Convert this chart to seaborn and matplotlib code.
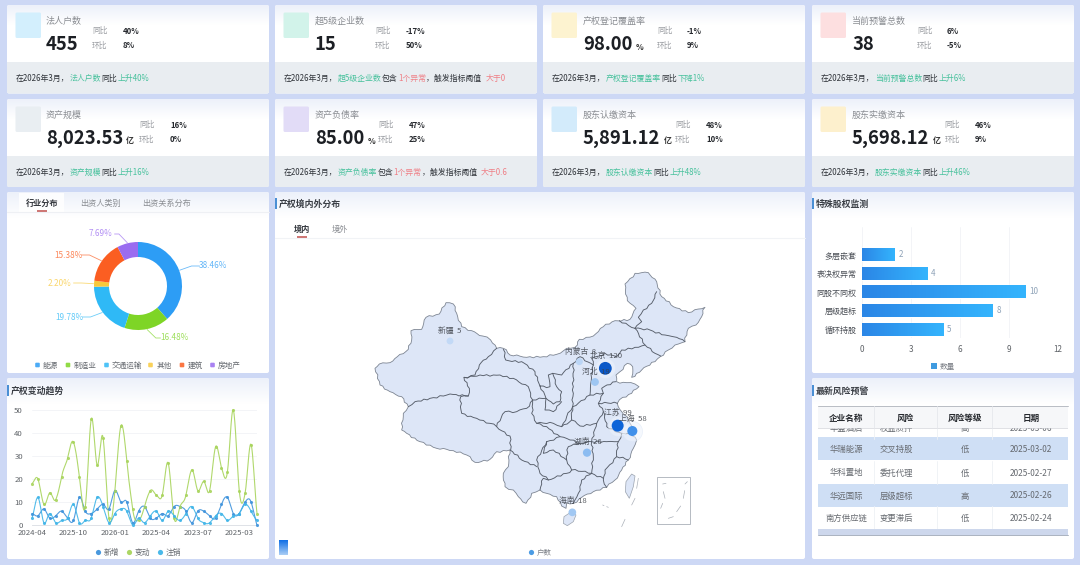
import numpy as np
import pandas as pd
import matplotlib
matplotlib.use("Agg")
import matplotlib.pyplot as plt
from matplotlib.colors import LinearSegmentedColormap, to_rgb
from matplotlib.patches import FancyBboxPatch, Polygon, Rectangle
import seaborn as sns

sns.set_theme(style="white")
FONT = ["Noto Sans CJK SC", "DejaVu Sans"]
plt.rcParams["font.family"] = FONT
plt.rcParams["axes.unicode_minus"] = False

# KPI cards
CARD_TITLES = ["法人户数", "超5级企业数", "产权登记覆盖率", "当前预警总数",
               "资产规模", "资产负债率", "股东认缴资本", "股东实缴资本"]
CARD_VALUES = ["455", "15", "98.00", "38", "8,023.53", "85.00", "5,891.12", "5,698.12"]
CARD_UNITS = ["", "", "%", "", "亿", "%", "亿", "亿"]
CARD_YOY = ["40%", "-17%", "-1%", "6%", "16%", "47%", "48%", "46%"]
CARD_QOQ = ["8%", "50%", "9%", "-5%", "0%", "25%", "10%", "9%"]
CARD_ICONS = ["#d3effd", "#d2f3ea", "#fdf3d0", "#fddfe0", "#e9eef2", "#e2dcf7", "#d3ebfb", "#fdf0cd"]
CARD_NOTES = [
    [("法人户数", "g"), ("同比", "k"), ("上升40%", "g")],
    [("超5级企业数", "g"), ("包含", "k"), ("1个异常", "r"), ("，触发指标阈值 ", "k"), ("大于0", "r")],
    [("产权登记覆盖率", "g"), ("同比", "k"), ("下降1%", "g")],
    [("当前预警总数", "g"), ("同比", "k"), ("上升6%", "g")],
    [("资产规模", "g"), ("同比", "k"), ("上升16%", "g")],
    [("资产负债率", "g"), ("包含", "k"), ("1个异常", "r"), ("，触发指标阈值 ", "k"), ("大于0.6", "r")],
    [("股东认缴资本", "g"), ("同比", "k"), ("上升48%", "g")],
    [("股东实缴资本", "g"), ("同比", "k"), ("上升46%", "g")],
]

# Industry donut
INDUSTRIES = ["能源", "制造业", "交通运输", "其他", "建筑", "房地产"]
INDUSTRY_SHARE = [38.46, 16.48, 19.78, 2.20, 15.38, 7.69]
INDUSTRY_COLORS = ["#2d9df5", "#7ed526", "#2fb9f6", "#f8c93c", "#fb5e22", "#9a6cf0"]
DONUT_TABS = ["行业分布", "出资人类别", "出资关系分布"]

# Equity change trend
TREND_TICKS = ["2024-04", "2025-10", "2026-01", "2025-04", "2023-07", "2025-03"]
TREND_ADDED = [5, 4, 7, 3, 4, 6, 3, 2, 12, 6, 5, 7, 9, 7, 15, 10, 10, 1, 6, 8,
               3, 3, 5, 4, 8, 8, 6, 1, 6, 6, 4, 3, 9, 12, 5, 5, 10, 10, 0]
TREND_CHANGED = [18, 20, 9, 14, 11, 21, 29, 36, 21, 8, 46, 26, 38, 3, 15, 43, 28, 7, 2, 8,
                 15, 13, 13, 27, 3, 8, 13, 24, 15, 19, 15, 34, 25, 23, 50, 15, 14, 35, 5]
TREND_CANCELLED = [3, 12, 1, 5, 1, 2, 3, 9, 1, 2, 3, 12, 8, 1, 5, 7, 6, 0, 3, 1,
                   4, 6, 2, 6, 4, 2, 5, 8, 3, 1, 1, 4, 5, 2, 4, 5, 9, 6, 2]

# Special equity monitoring
EQUITY_TYPES = ["多层嵌套", "表决权异常", "同股不同权", "层级超标", "循环持股"]
EQUITY_COUNTS = [2, 4, 10, 8, 5]

# Latest risk alerts
ALERT_HEADERS = ["企业名称", "风险", "风险等级", "日期"]
ALERT_FIRMS = ["华盛酒店", "华瑞能源", "华科置地", "华远国际", "南方供应链"]
ALERT_RISKS = ["权益质押", "交叉持股", "委托代理", "层级超标", "变更滞后"]
ALERT_LEVELS = ["高", "低", "低", "高", "低"]
ALERT_DATES = ["2025-03-06", "2025-03-02", "2025-02-27", "2025-02-26", "2025-02-24"]

# Holdings by region, placed on the map sheet
REGIONS = ["新疆", "内蒙古", "北京", "河北", "江苏", "上海", "湖南", "海南"]
REGION_COUNTS = [5, 8, 120, 19, 99, 58, 26, 18]
REGION_X = [330, 718, 796, 765, 833, 877, 741, 697]
REGION_Y = [243, 305, 325, 366, 497, 513, 578, 757]
REGION_LABEL_Y = [212, 277, 287, 335, 458, 478, 547, 724]
REGION_LABEL_X = [330, 722, 797, 768, 835, 880, 742, 698]

# Map sheet geometry (sheet units, y downward)
CHINA_OUTLINE = [
    (105, 325), (118, 312), (150, 308), (172, 290), (205, 268), (215, 240), (213, 212), (245, 208),
    (258, 172), (298, 162), (318, 128), (340, 132), (350, 160), (365, 200), (395, 212), (428, 228),
    (452, 240), (470, 265), (490, 265), (510, 285), (560, 292), (610, 290), (650, 283), (680, 265),
    (705, 262), (718, 238), (760, 228), (790, 200), (825, 182), (870, 178), (888, 145), (862, 122),
    (855, 72), (885, 40), (925, 38), (950, 65), (965, 110), (1000, 140), (1045, 158), (1095, 142),
    (1085, 170), (1068, 195), (1045, 205), (1035, 245), (1005, 255), (985, 270), (945, 305), (905, 330),
    (875, 352), (878, 320), (862, 310), (840, 335), (828, 345), (830, 365), (860, 368), (885, 372),
    (897, 380), (875, 400), (848, 412), (832, 430), (845, 455), (865, 480), (885, 508), (870, 520),
    (890, 540), (880, 565), (865, 600), (845, 630), (825, 660), (800, 682), (760, 695), (725, 712),
    (700, 730), (680, 728), (678, 745), (665, 738), (650, 710), (620, 700), (600, 690), (575, 700),
    (558, 730), (535, 710), (520, 690), (495, 680), (490, 640), (505, 620), (510, 570), (470, 575),
    (450, 598), (405, 607), (380, 585), (340, 572), (290, 565), (240, 545), (200, 520), (185, 510),
    (190, 460), (205, 440), (185, 410), (150, 395), (120, 375), (105, 325),
]
PROVINCE_BORDERS = [
    [(205, 440), (225, 425), (270, 415), (330, 402), (385, 408), (388, 385), (372, 352), (405, 345),
     (418, 315), (445, 290), (470, 265)],
    [(385, 408), (362, 410), (365, 460), (410, 475), (450, 490), (470, 500), (510, 528), (512, 570)],
    [(372, 352), (420, 345), (480, 345), (520, 355), (565, 380), (578, 420), (560, 445), (530, 455),
     (495, 455), (470, 500)],
    [(490, 268), (497, 300), (545, 305), (585, 335), (600, 378), (618, 415), (640, 432), (660, 425),
     (665, 395), (650, 380), (638, 340), (625, 345), (630, 380), (600, 378)],
    [(578, 420), (618, 415), (615, 450), (640, 455), (665, 425)],
    [(638, 340), (665, 345), (700, 310), (720, 290), (760, 315)],
    [(700, 310), (700, 380), (698, 440), (680, 470), (665, 500), (640, 490), (590, 490), (575, 460), (578, 420)],
    [(760, 315), (752, 372), (750, 405), (698, 440)],
    [(760, 315), (755, 295), (795, 280), (830, 290), (845, 270), (885, 262), (915, 255), (945, 280), (962, 288)],
    [(885, 205), (915, 255)],
    [(885, 205), (905, 185), (895, 172), (910, 150), (935, 130), (950, 95)],
    [(885, 205), (930, 210), (975, 225), (1010, 232), (1035, 245)],
    [(885, 205), (838, 182)],
    [(750, 405), (790, 400), (785, 385), (828, 365)],
    [(790, 400), (775, 430), (832, 430)],
    [(775, 430), (790, 455), (770, 490), (755, 545), (720, 550), (690, 540), (660, 530), (620, 545)],
    [(698, 440), (695, 480), (720, 498), (770, 490)],
    [(665, 500), (695, 480)],
    [(790, 455), (800, 500), (845, 520), (870, 520)],
    [(755, 545), (800, 545), (835, 545), (845, 520)],
    [(835, 545), (830, 590), (865, 600)],
    [(830, 590), (795, 630), (790, 660), (800, 682)],
    [(755, 545), (760, 590), (755, 640), (790, 655)],
    [(720, 550), (685, 560), (680, 600), (695, 630), (755, 640)],
    [(755, 640), (725, 660), (715, 700), (700, 730)],
    [(620, 545), (590, 600), (600, 640), (625, 660), (680, 640), (695, 630)],
    [(625, 660), (610, 655), (600, 690)],
    [(510, 570), (545, 600), (590, 620)],
    [(590, 490), (620, 500), (660, 530)],
    [(620, 545), (610, 580), (640, 570), (680, 600)],
]
HAINAN = [(672, 770), (695, 755), (708, 765), (700, 785), (682, 797), (670, 790)]
TAIWAN = [(875, 642), (885, 648), (880, 680), (868, 715), (856, 695), (858, 665)]
SEA_DASHES = [
    [(895, 655), (890, 685)], [(885, 715), (875, 735)], [(855, 778), (845, 800)],
    [(788, 735), (792, 737)], [(800, 740), (805, 742)],
]
INSET_BOX = [(950, 650), (1050, 650), (1050, 792), (950, 792)]
INSET_DASHES = [
    [(968, 672), (978, 670)], [(970, 695), (975, 715)], [(962, 745), (968, 730)],
    [(985, 775), (1000, 770)], [(1010, 755), (1022, 738)], [(1030, 715), (1034, 692)],
    [(1035, 672), (1042, 665)],
]

PAGE_BG = "#cdd8f5"
TEXT_DARK = "#2b2f36"
W, H = 1080, 565


def axes_px(x0, y0, x1, y1, **kw):
    """Axes placed by pixel box, y measured from the top of the page."""
    return fig.add_axes([x0 / W, 1 - y1 / H, (x1 - x0) / W, (y1 - y0) / H], **kw)


def rounded(x0, y0, x1, y1, color, r=2.0, z=1):
    patch = FancyBboxPatch((x0 + r, y0 + r), x1 - x0 - 2 * r, y1 - y0 - 2 * r,
                           boxstyle=f"round,pad={r},rounding_size={r}",
                           fc=color, ec="none", zorder=z)
    page.add_patch(patch)
    return patch


def panel(x0, y0, x1, y1, band=26):
    """White panel with a pale blue wash fading down from the top edge."""
    patch = rounded(x0, y0, x1, y1, "white")
    top = np.array(to_rgb("#edf1fa"))
    ramp = np.linspace(0, 1, 32)[:, None, None]
    grad = top * (1 - ramp) + np.ones(3) * ramp
    im = page.imshow(grad, extent=(x0, x1, y0 + band, y0), aspect="auto",
                     interpolation="bilinear", zorder=1.2)
    im.set_clip_path(patch)


def label(x, y, s, size=5.6, color=TEXT_DARK, ha="left", weight="normal", z=5):
    return page.text(x, y, s, fontsize=size, color=color, ha=ha, va="center_baseline",
                     fontweight=weight, zorder=z, family=FONT)


def title(x, y, s):
    page.add_patch(Rectangle((x, y - 5.5), 2, 11, fc="#4a8fd4", ec="none", zorder=5))
    label(x + 3.5, y, s, size=6.4, color="#3a3e45", weight="bold")


def rugged(points, amp=2.4, step=9.0):
    """Break long straight border runs into a slightly irregular line."""
    pts = np.asarray(points, float)
    out = [pts[0]]
    for a, b in zip(pts[:-1], pts[1:]):
        seg = b - a
        length = np.hypot(*seg)
        n = max(int(length / step), 1)
        normal = np.array([-seg[1], seg[0]]) / max(length, 1e-6)
        for k in range(1, n):
            phase = a[0] * 0.31 + a[1] * 0.17 + k * 2.399
            out.append(a + seg * k / n + normal * amp * (np.sin(phase) + 0.5 * np.sin(2.7 * phase)))
        out.append(b)
    return np.array(out)


fig = plt.figure(figsize=(W / 100, H / 100), dpi=100, facecolor=PAGE_BG)
page = fig.add_axes([0, 0, 1, 1])
page.set_autoscale_on(False)
page.set_xlim(0, W)
page.set_ylim(H, 0)
page.axis("off")
renderer = fig.canvas.get_renderer()

# ---- KPI cards ----
CARD_X = [(7, 269), (275, 537), (543, 805), (812, 1074)]
CARD_Y = [(5, 93.5), (99, 187)]
FOOT_TOP = [61.5, 155.5]
STAT_X = [[(92, 123), (375, 406), (657, 687), (917, 947)],
          [(139, 170), (378, 409), (675, 706), (944.5, 975)]]
TEXT_X = [46, 315, 583, 852]
NOTE_COLORS = {"g": "#47c19c", "k": "#30343a", "r": "#ef7f86"}

for i in range(8):
    row, col = divmod(i, 4)
    x0, x1 = CARD_X[col]
    y0, y1 = CARD_Y[row]
    panel(x0, y0, x1, y1, band=20)
    page.add_patch(Rectangle((x0, FOOT_TOP[row]), x1 - x0, y1 - FOOT_TOP[row] - 1.5,
                             fc="#e9edf1", ec="none", zorder=1.5))
    rounded(x0, y1 - 4, x1, y1, "#e9edf1", z=1.4)
    rounded(x0 + 8.5, y0 + 7.5, x0 + 34, y0 + 33, CARD_ICONS[i], r=1.5, z=2)
    tx = TEXT_X[col]
    label(tx, y0 + 15, CARD_TITLES[i], size=6.5, color="#8a8d92")
    num = label(tx, y0 + 37, CARD_VALUES[i], size=13.3, color="#1c1f24", weight="bold")
    if CARD_UNITS[i]:
        right = num.get_window_extent(renderer).x1
        label(right + 3, y0 + 41, CARD_UNITS[i], size=5.8, color="#333333", weight="bold")
    lx, vx = STAT_X[row][col]
    label(lx, y0 + 25, "同比", color="#9a9da2")
    label(lx, y0 + 39.5, "环比", color="#9a9da2")
    label(vx, y0 + 25, CARD_YOY[i], color="#26292e", weight="bold")
    label(vx, y0 + 39.5, CARD_QOQ[i], color="#26292e", weight="bold")
    cursor = x0 + 9
    for text, tone in [("在2026年3月，", "k")] + CARD_NOTES[i]:
        t = label(cursor, y0 + 72, text, size=5.7, color=NOTE_COLORS[tone])
        cursor = t.get_window_extent(renderer).x1 + 0.3
        if text.endswith(" "):
            cursor += 2

# ---- Panel shells ----
panel(7, 192, 269, 373)
panel(7, 378, 269, 559)
panel(275, 192, 805, 559)
panel(812, 192, 1074, 373)
panel(812, 378, 1074, 559)

# ---- Industry donut ----
page.add_patch(Rectangle((19, 193), 45, 19, fc="white", ec="none", zorder=1.6, alpha=0.85))
page.plot([7, 269], [212, 212], color="#eef0f4", lw=0.8, zorder=2)
page.plot([37, 47], [210.5, 210.5], color="#c0504d", lw=1.1, zorder=5, solid_capstyle="butt")
for text, x, active in zip(DONUT_TABS, (26, 80, 142), (True, False, False)):
    label(x, 202, text, size=5.9, color="#33373d" if active else "#8a8d92",
          weight="bold" if active else "normal")

ax_pie = axes_px(7, 192, 269, 373, facecolor="none")
CX, CY = 138, H - 286
wedges, _ = ax_pie.pie(INDUSTRY_SHARE, colors=INDUSTRY_COLORS, startangle=90, counterclock=False,
                       center=(CX, CY), radius=44, frame=True,
                       wedgeprops=dict(width=15, linewidth=0))
ax_pie.set_xlim(7, 269)
ax_pie.set_ylim(H - 373, H - 192)
ax_pie.axis("off")
PIE_LABEL_XY = [(213, 266), (174, 338), (69, 317), (60, 283), (68, 255), (101, 234)]
for w, val, color, (lx, ly) in zip(wedges, INDUSTRY_SHARE, INDUSTRY_COLORS, PIE_LABEL_XY):
    a = np.deg2rad((w.theta1 + w.theta2) / 2)
    sx, sy = CX + 44.5 * np.cos(a), CY + 44.5 * np.sin(a)
    ey = H - ly
    side = 1 if lx > CX else -1
    half = 12.5
    tx_end = lx - side * half - side * 1
    ax_pie.plot([sx, (sx + tx_end) / 2 + side * 2, tx_end], [sy, ey, ey], color=color,
                lw=0.6, alpha=0.7, solid_joinstyle="round")
    ax_pie.text(lx, ey, f"{val:.2f}%", fontsize=5.9, color=color, alpha=0.75,
                ha="center", va="center", family=FONT)
for name, color, mx, tx in zip(INDUSTRIES, INDUSTRY_COLORS, (37.5, 68, 106.5, 150.5, 182, 212.5),
                               (43, 74, 112, 157, 188, 218)):
    page.add_patch(FancyBboxPatch((mx - 2, 363), 4, 4, boxstyle="round,pad=0.3,rounding_size=1",
                                  fc=color, ec="none", alpha=0.85, zorder=5))
    label(tx, 365, name, size=5.5, color="#666a70")

# ---- Equity change trend ----
title(7, 390, "产权变动趋势")
ax_line = axes_px(32, 410, 257, 525, facecolor="none")
SERIES = [("新增", TREND_ADDED, "#3f93dc"), ("变动", TREND_CHANGED, "#a8d45c"), ("注销", TREND_CANCELLED, "#40b5e8")]


def smooth(values, per_seg=16, tension=0.72):
    """Cardinal spline curve through the given monthly values."""
    v = np.asarray(values, float)
    p = np.concatenate([[v[0]], v, [v[-1]]])
    tangents = tension * (p[2:] - p[:-2])
    xs, ys = [], []
    for k in range(len(v) - 1):
        t = np.linspace(0, 1, per_seg, endpoint=False)
        h00 = 2 * t ** 3 - 3 * t ** 2 + 1
        h10 = t ** 3 - 2 * t ** 2 + t
        h01 = -2 * t ** 3 + 3 * t ** 2
        h11 = t ** 3 - t ** 2
        ys.append(h00 * v[k] + h10 * tangents[k] + h01 * v[k + 1] + h11 * tangents[k + 1])
        xs.append(k + t)
    return np.concatenate(xs + [[len(v) - 1]]), np.concatenate(ys + [[v[-1]]])


for name, vals, color in SERIES:
    sx, sy = smooth(vals)
    sns.lineplot(x=sx, y=sy, color=color, lw=0.8, alpha=0.9, ax=ax_line, estimator=None,
                 sort=False, errorbar=None, clip_on=False)
    sns.scatterplot(x=np.arange(len(vals)), y=vals, color=color, s=5, linewidth=0, alpha=0.9,
                    ax=ax_line, clip_on=False, zorder=4)
ax_line.set_xlim(0, len(TREND_ADDED) - 1)
ax_line.set_ylim(0, 50)
ax_line.set_xticks(np.arange(0, len(TREND_ADDED), 7), TREND_TICKS)
ax_line.set_yticks(range(0, 51, 10))
ax_line.grid(axis="y", color="#f1f3f6", lw=0.6)
ax_line.set_axisbelow(True)
ax_line.tick_params(length=0, labelsize=5.6, labelcolor="#5f6368", pad=3)
ax_line.tick_params(axis="y", pad=6.5)
for s in ax_line.spines.values():
    s.set_visible(False)
ax_line.spines["bottom"].set_visible(True)
ax_line.spines["bottom"].set_color("#d9dde3")
ax_line.spines["bottom"].set_linewidth(0.6)
ax_line.set_xlabel("")
ax_line.set_ylabel("")
for (name, _, color), mx in zip(SERIES, (98, 129, 160)):
    page.scatter([mx], [552], s=14, color=color, linewidth=0, zorder=5, alpha=0.95)
    label(mx + 6, 552, name, size=5.6, color="#666a70")

# ---- Regional map ----
title(275, 203, "产权境内外分布")
page.add_patch(Rectangle((287, 218), 31, 19.5, fc="white", ec="none", zorder=1.6, alpha=0.85))
page.plot([275, 805], [238, 238], color="#f1f3f6", lw=0.8, zorder=1.7)
page.plot([297, 307], [236.8, 236.8], color="#c0504d", lw=1.1, zorder=5, solid_capstyle="butt")
label(302, 228, "境内", size=5.9, color="#33373d", ha="center", weight="bold")
label(340, 228, "境外", size=5.9, color="#8a8d92", ha="center")

ax_map = axes_px(340, 260, 740, 560, facecolor="none")
ax_map.set_xlim(0, 1200)
ax_map.set_ylim(900, 0)
ax_map.axis("off")
LAND = "#dde6f7"
EDGE = "#565d69"
ax_map.add_patch(Polygon(rugged(CHINA_OUTLINE), closed=True, fc=LAND, ec="#7d8592", lw=0.6,
                         joinstyle="round", zorder=2))
for line in PROVINCE_BORDERS:
    arr = rugged(line)
    ax_map.plot(arr[:, 0], arr[:, 1], color=EDGE, lw=0.65, solid_joinstyle="round", zorder=3)
ax_map.add_patch(Polygon(HAINAN, closed=True, fc=LAND, ec="#9ba3ae", lw=0.5, zorder=2))
ax_map.add_patch(Polygon(TAIWAN, closed=True, fc=LAND, ec="#9ba3ae", lw=0.5, zorder=2))
ax_map.add_patch(Polygon(INSET_BOX, closed=True, fc="none", ec="#aab0b8", lw=0.6, zorder=2))
for line in SEA_DASHES + INSET_DASHES:
    arr = np.array(line)
    ax_map.plot(arr[:, 0], arr[:, 1], color="#aab0b8", lw=0.5, zorder=2)

region_df = pd.DataFrame({"region": REGIONS, "count": REGION_COUNTS, "x": REGION_X, "y": REGION_Y})
heat = LinearSegmentedColormap.from_list("heat", ["#c2d9f6", "#5ea4ec", "#0f6fe6", "#0a58c8"])
for _, r in region_df[region_df["count"] > 50].iterrows():
    sns.scatterplot(x=[r.x], y=[r.y], s=210, color="#eef4fd", alpha=0.55, edgecolor="#dbe6f6",
                    linewidth=0.5, ax=ax_map, zorder=3.5, legend=False)
sns.scatterplot(data=region_df, x="x", y="y", hue="count", hue_norm=(5, 120), palette=heat,
                size="count", sizes=(24, 85), size_norm=(5, 120), linewidth=0,
                ax=ax_map, zorder=4, legend=False)
ax_map.set_xlim(0, 1200)
ax_map.set_ylim(900, 0)
ax_map.set_xlabel("")
ax_map.set_ylabel("")
ax_map.axis("off")
for name, val, lx, ly in zip(REGIONS, REGION_COUNTS, REGION_LABEL_X, REGION_LABEL_Y):
    ax_map.text(lx, ly, f"{name}  {val}", fontsize=5.6, color="#3b3f46", alpha=0.85, ha="center",
                va="center", zorder=5, family=FONT)

ramp_img = np.linspace(0, 1, 32)[:, None]
page.imshow(ramp_img, cmap=LinearSegmentedColormap.from_list("r", ["#0f6fe6", "#a9cdf5"]),
            extent=(279, 288, 555, 540), aspect="auto", zorder=4)
page.scatter([531], [552], s=14, color="#4a9be4", linewidth=0, zorder=5)
label(537, 552, "户数", size=5.4, color="#7c8087")

# ---- Special equity bars ----
title(812, 203, "特殊股权监测")
ax_bar = axes_px(862, 227, 1058, 338.3, facecolor="none")
bar_df = pd.DataFrame({"类型": EQUITY_TYPES, "数量": EQUITY_COUNTS})
sns.barplot(data=bar_df, y="类型", x="数量", orient="h", order=EQUITY_TYPES, color="#2f9bf0",
            width=0.7, saturation=1, ax=ax_bar, zorder=2)
ramp = np.linspace(0, 1, 64)[None, :, None]
left, right_c = np.array(to_rgb("#2b86e6")), np.array(to_rgb("#34b4fd"))
bar_grad = left * (1 - ramp) + right_c * ramp
for bar, val in zip(ax_bar.patches, EQUITY_COUNTS):
    bbox_y0, h = bar.get_y(), bar.get_height()
    im = ax_bar.imshow(bar_grad, extent=(0, val, bbox_y0 + h, bbox_y0), aspect="auto", zorder=3)
    im.set_clip_path(bar)
    ax_bar.text(val + 0.22, bbox_y0 + h / 2, str(val), fontsize=5.8, color="#8fa3b8",
                va="center", ha="left", zorder=4, family=FONT)
ax_bar.set_xlim(0, 12)
ax_bar.set_ylim(4.5, -1.5)
ax_bar.set_xticks(range(0, 13, 3))
ax_bar.set_xlabel("")
ax_bar.set_ylabel("")
ax_bar.grid(axis="x", color="#f1f3f6", lw=0.6)
ax_bar.set_axisbelow(True)
ax_bar.tick_params(length=0, labelsize=5.8, labelcolor="#5f6368")
ax_bar.tick_params(axis="x", pad=4.5)
ax_bar.tick_params(axis="y", pad=4, labelcolor="#4a4e55")
for s in ax_bar.spines.values():
    s.set_visible(False)
page.scatter([934], [366], s=14, marker="s", color="#3f9be0", linewidth=0, zorder=5)
label(940, 366, "数量", size=5.5, color="#7c8087")

# ---- Alert table ----
title(812, 390, "最新风险预警")
TX0, TX1 = 818, 1068
ROW_H = 23
ROW_TOPS = [416, 437, 460.5, 483.5, 506]
COL_LINES = [874, 937, 992]
for i, top in enumerate(ROW_TOPS):
    if i % 2 == 1:
        page.add_patch(Rectangle((TX0, top), TX1 - TX0, ROW_H, fc="#cfdff5", ec="none", zorder=2))
    yc = top + ROW_H / 2
    label(846, yc, ALERT_FIRMS[i], size=6, color="#666a70", ha="center", z=3)
    label(880, yc, ALERT_RISKS[i], size=6, color="#666a70", z=3)
    label(965, yc, ALERT_LEVELS[i], size=6, color="#666a70", ha="center", z=3)
    label(1031, yc, ALERT_DATES[i], size=6, color="#666a70", ha="center", z=3)
    if i % 2 == 0:
        span_top = max(top, 428)
        for cx in COL_LINES:
            page.plot([cx, cx], [span_top, top + ROW_H], color="#eef1f5", lw=0.6, zorder=2.5)
page.add_patch(Rectangle((TX0, 529), TX1 - TX0, 6, fc="#cdd7ec", ec="none", zorder=3))
page.plot([TX0, TX1], [535, 535], color="#aab2c0", lw=0.7, zorder=3.1)
page.add_patch(Rectangle((TX0, 406), TX1 - TX0, 22, fc="#f6f7f9", ec="none", zorder=4))
page.add_patch(Rectangle((TX0, 428), TX1 - TX0, 1.2, fc="#c8cad0", ec="none", zorder=4, alpha=0.55))
page.plot([TX0, TX1], [406, 406], color="#b9bdc4", lw=0.7, zorder=4.1)
for cx in COL_LINES:
    page.plot([cx, cx], [406, 428], color="#e6e8ec", lw=0.6, zorder=4.1)
for text, cx in zip(ALERT_HEADERS, (846, 905.5, 965, 1031)):
    label(cx, 417, text, size=6.2, color="#26292e", ha="center", weight="bold", z=6)

fig.savefig("out.png", dpi=100, facecolor=PAGE_BG)
